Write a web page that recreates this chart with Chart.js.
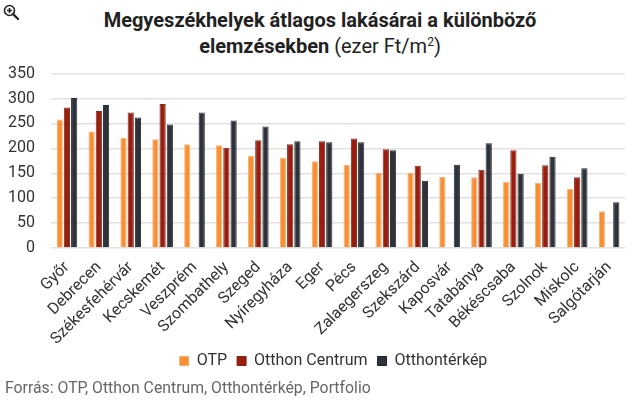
<!DOCTYPE html>
<html>
<head>
<meta charset="utf-8">
<script src="https://cdn.jsdelivr.net/npm/chart.js@4/dist/chart.umd.min.js"></script>
<style>
  html, body { margin: 0; padding: 0; background: #fff; }
  body { width: 640px; height: 400px; position: relative; overflow: hidden; font-family: Roboto, "Noto Sans", sans-serif; }
  #icon { position: absolute; left: 3px; top: 4px; width: 17px; height: 17px; }
  #title { position: absolute; top: 7px; left: 0; width: 640px; text-align: center; font-size: 20px; line-height: 26px; color: #222; }
  #title b { font-weight: 700; }
  #title sup { font-size: 12px; vertical-align: 7px; line-height: 0; }
  #wrap { position: absolute; left: 0; top: 48px; width: 640px; height: 331px; }
  #source { position: absolute; left: 5px; top: 378px; font-size: 15.8px; color: #666; white-space: nowrap; }
</style>
</head>
<body>
<svg id="icon" viewBox="0 0 17 17"><circle cx="6.5" cy="6.5" r="5" fill="#fff" stroke="#222" stroke-width="1.6"/><path d="M4 6.5h5M6.5 4v5" stroke="#222" stroke-width="1.6"/><path d="M10 10l5 5" stroke="#222" stroke-width="2.4" stroke-linecap="round"/></svg>
<div id="title"><b>Megyeszékhelyek átlagos lakásárai a különböző</b><br><b>elemzésekben</b> (ezer Ft/m<sup>2</sup>)</div>
<div id="wrap"><canvas id="c"></canvas></div>
<div id="source">Forrás: OTP, Otthon Centrum, Otthontérkép, Portfolio</div>
<script>
const categories = ["Győr","Debrecen","Székesfehérvár","Kecskemét","Veszprém","Szombathely","Szeged","Nyíregyháza","Eger","Pécs","Zalaegerszeg","Szekszárd","Kaposvár","Tatabánya","Békéscsaba","Szolnok","Miskolc","Salgótarján"];
const otp = [258,234,221,218,208,206,185,181,174,167,151,151,143,142,133,131,119,74];
const otthonCentrum = [282,275,272,289,null,201,216,208,214,220,198,165,null,157,196,166,142,null];
const otthonterkep = [301,287,262,248,272,256,244,214,212,212,196,135,167,210,149,183,160,92];
const yMax = 350;
const yStep = 50;

const legendShift = {
  id: 'legendShift',
  afterLayout(chart) {
    if (chart.legend) { chart.legend.left += 20; chart.legend.right += 20; }
  }
};

new Chart(document.getElementById('c'), {
  type: 'bar',
  data: {
    labels: categories,
    datasets: [
      { label: 'OTP', data: otp, backgroundColor: '#f78f34', borderColor: 'rgba(250,170,100,0.9)', borderWidth: 1 },
      { label: 'Otthon Centrum', data: otthonCentrum, backgroundColor: '#9a1e0e', borderColor: 'rgba(120,20,10,0.9)', borderWidth: 1 },
      { label: 'Otthontérkép', data: otthonterkep, backgroundColor: '#2e333b', borderColor: 'rgba(20,22,28,0.9)', borderWidth: 1 }
    ]
  },
  plugins: [legendShift],
  options: {
    responsive: true,
    maintainAspectRatio: false,
    animation: false,
    layout: { padding: { top: 5, right: 15, left: 2, bottom: 0 } },
    datasets: { bar: { categoryPercentage: 0.68, barPercentage: 0.86 } },
    scales: {
      x: {
        grid: { display: false },
        border: { display: false },
        afterFit: (ax) => { ax.height = 95; },
        ticks: { autoSkip: false, minRotation: 45, maxRotation: 45, color: '#333', font: { family: 'Roboto', size: 16 }, padding: 2 }
      },
      y: {
        min: 0, max: yMax,
        afterFit: (ax) => { ax.width = 49; },
        grid: { color: '#e2e2e2', lineWidth: 1.5, drawTicks: false },
        border: { display: false },
        ticks: { autoSkip: false, stepSize: yStep, color: '#333', font: { family: 'Roboto', size: 16 }, padding: 16 }
      }
    },
    plugins: {
      legend: {
        position: 'bottom',
        labels: { boxWidth: 9, boxHeight: 9, padding: 10, color: '#333', font: { family: 'Roboto', size: 16 } }
      },
      tooltip: { enabled: false }
    }
  }
});
</script>
</body>
</html>
